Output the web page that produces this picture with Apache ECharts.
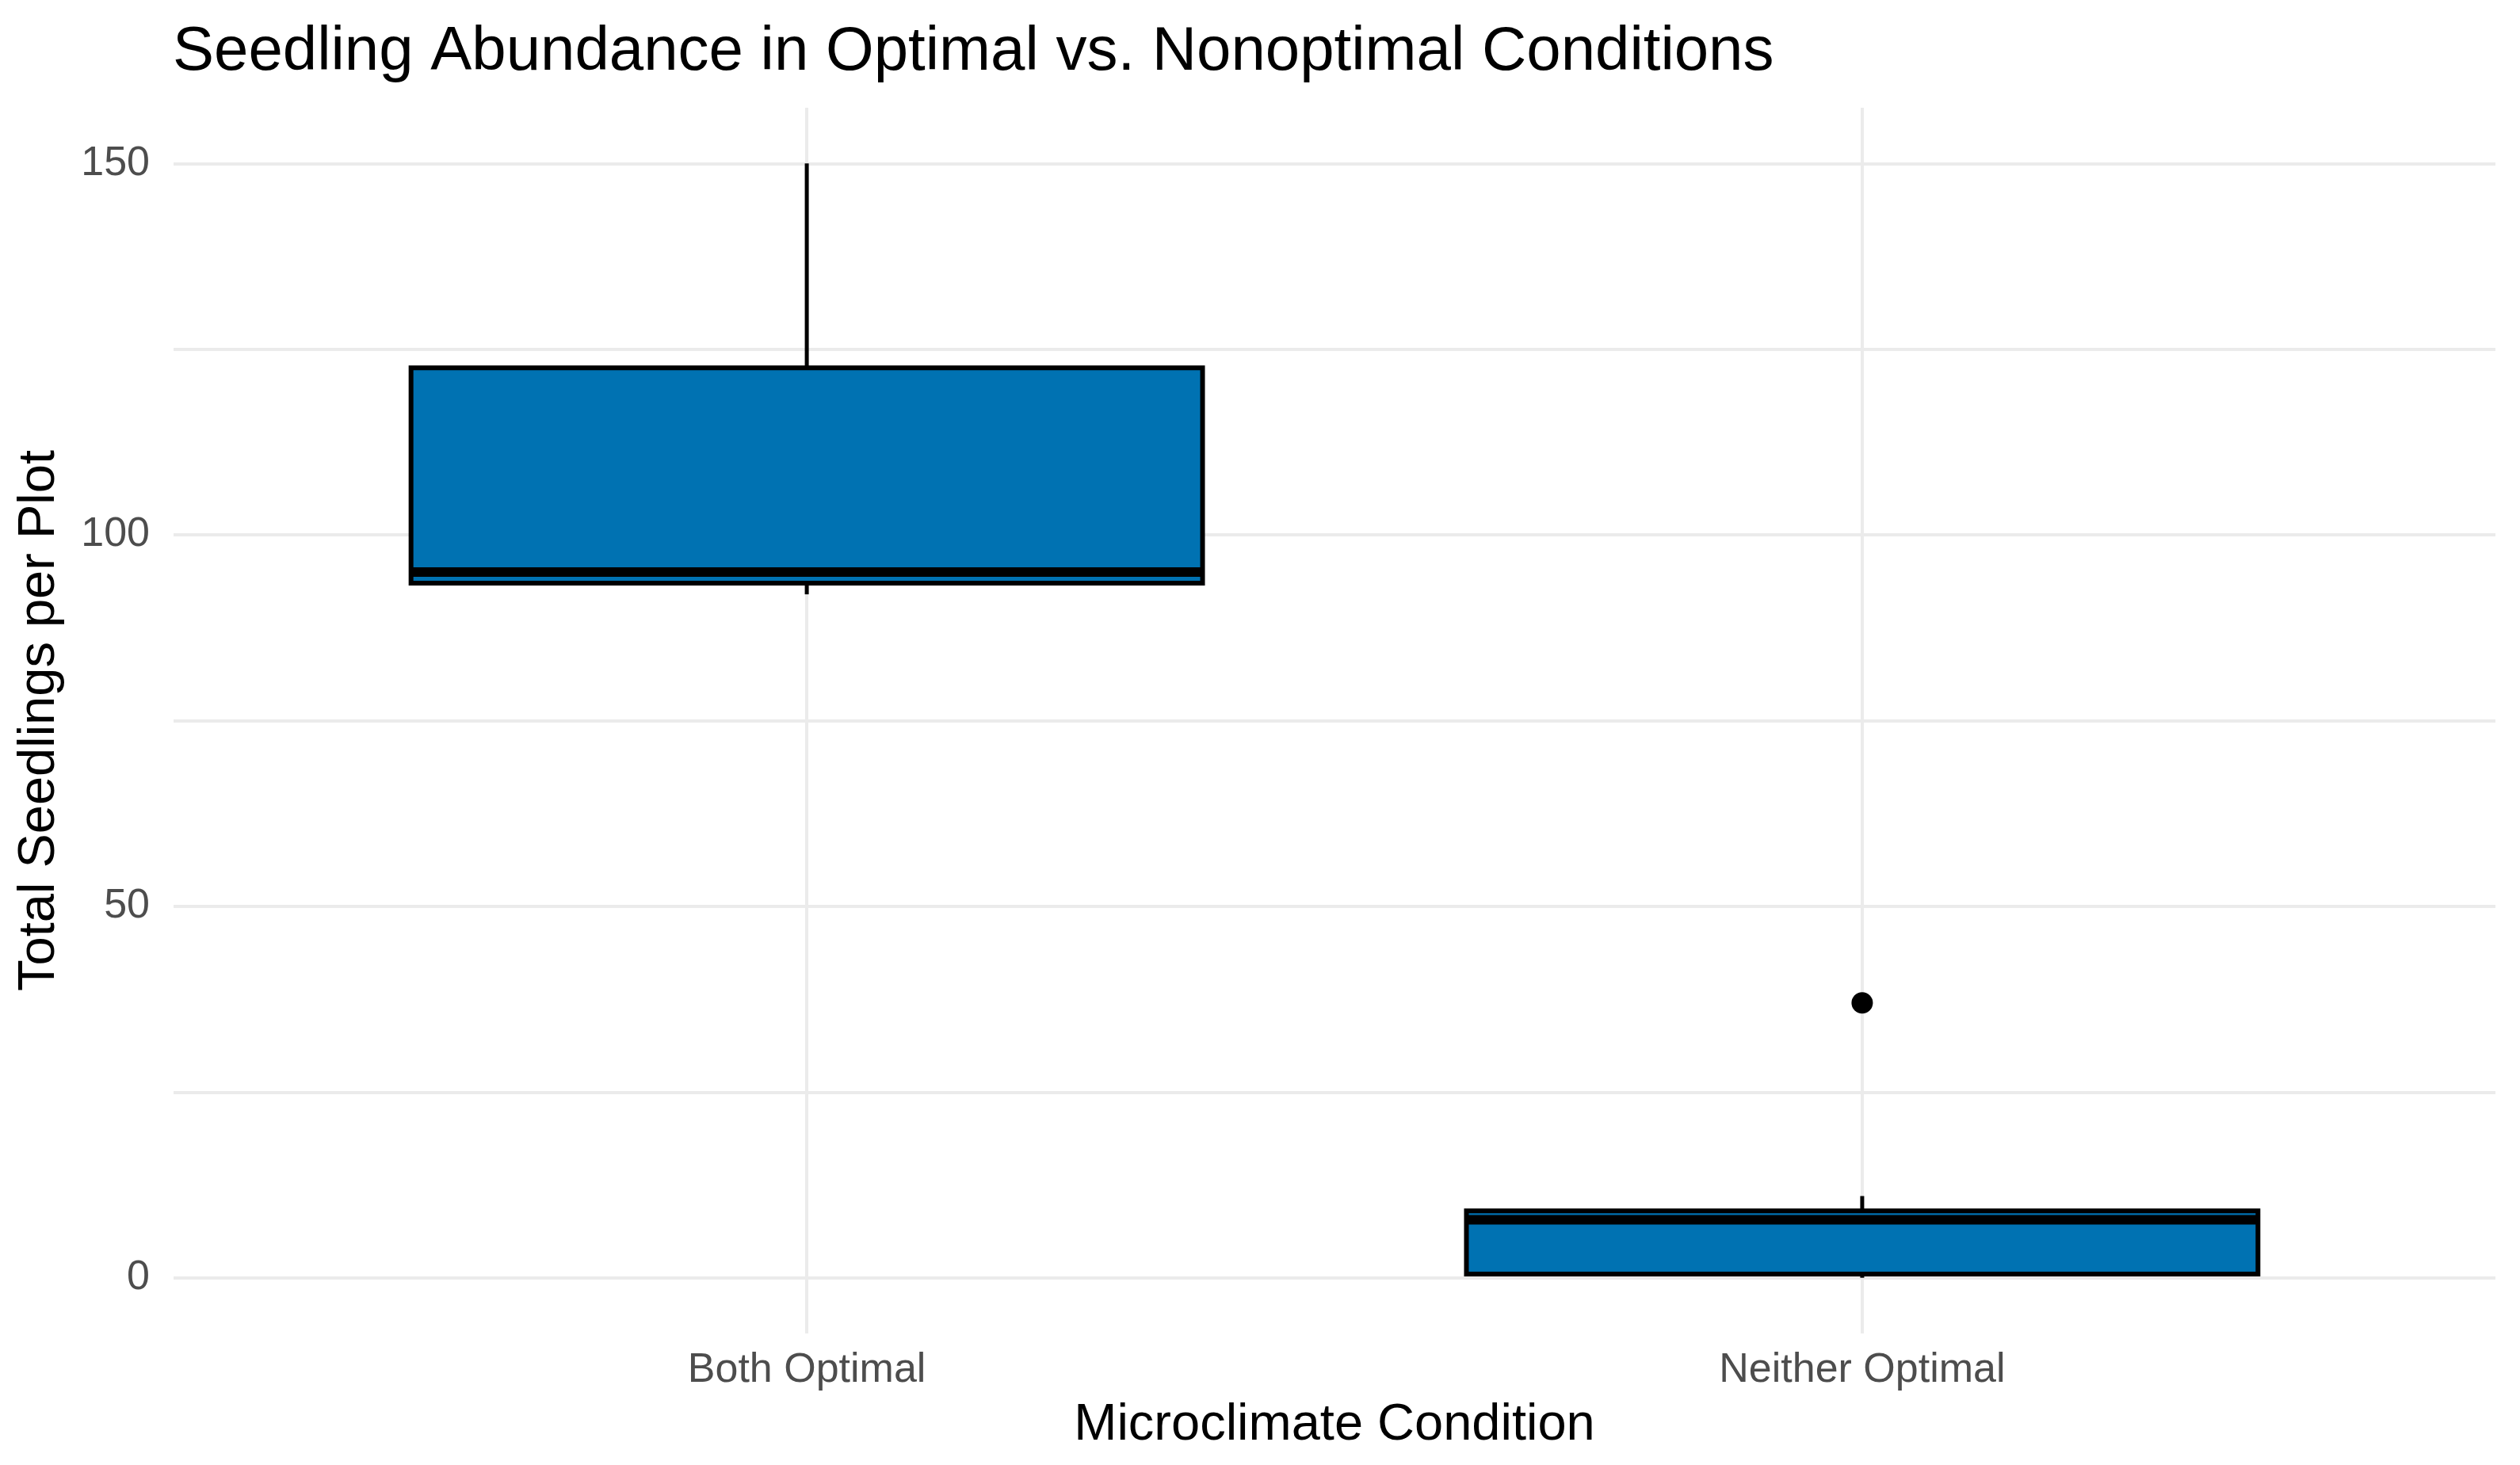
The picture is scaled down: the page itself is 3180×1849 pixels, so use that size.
<!DOCTYPE html>
<html>
<head>
<meta charset="utf-8">
<script src="https://cdn.jsdelivr.net/npm/echarts@6/dist/echarts.min.js"></script>
<style>
html,body{margin:0;padding:0;background:#ffffff;}
#chart{width:3180px;height:1849px;}
</style>
</head>
<body>
<div id="chart"></div>
<script>
// ---- Data ----
const categories = ['Both Optimal', 'Neither Optimal'];
const lowerWhisker = [92, 0];
const q1 = [93.5, 0.5];
const median = [95, 7.8];
const q3 = [122.5, 9];
const upperWhisker = [150, 11];
const outlierCategory = ['Neither Optimal'];
const outlierValue = [37];
const yTickLabels = [0, 50, 100, 150];
const yGridValues = [0, 25, 50, 75, 100, 125, 150];

// ---- Build series data ----
const boxData = categories.map((c, i) => [i + 1, lowerWhisker[i], q1[i], median[i], q3[i], upperWhisker[i]]);
const outlierData = outlierCategory.map((c, i) => [categories.indexOf(c) + 1, outlierValue[i]]);
const catPositions = categories.map((c, i) => i + 1);

const chart = echarts.init(document.getElementById('chart'), null, {renderer: 'canvas'});
const FONT = 'Liberation Sans';

function renderBox(params, api) {
  const x = api.value(0);
  const lo = api.coord([x, api.value(1)]);
  const b1 = api.coord([x, api.value(2)]);
  const md = api.coord([x, api.value(3)]);
  const b3 = api.coord([x, api.value(4)]);
  const hi = api.coord([x, api.value(5)]);
  const halfW = api.size([0.375, 0])[0];
  const cx = lo[0];
  return {
    type: 'group',
    children: [
      {type: 'line', shape: {x1: cx, y1: b3[1], x2: cx, y2: hi[1]}, style: {stroke: '#000', lineWidth: 5}},
      {type: 'line', shape: {x1: cx, y1: b1[1], x2: cx, y2: lo[1]}, style: {stroke: '#000', lineWidth: 5}},
      {type: 'rect', shape: {x: cx - halfW, y: b3[1], width: 2 * halfW, height: b1[1] - b3[1]},
        style: {fill: '#0072B2', stroke: '#000', lineWidth: 6}},
      {type: 'line', shape: {x1: cx - halfW, y1: md[1], x2: cx + halfW, y2: md[1]}, style: {stroke: '#000', lineWidth: 12}}
    ]
  };
}

const option = {
  backgroundColor: '#ffffff',
  animation: false,
  textStyle: {fontFamily: FONT},
  title: {
    text: 'Seedling Abundance in Optimal vs. Nonoptimal Conditions',
    left: 213,
    top: 22,
    textStyle: {fontFamily: FONT, fontSize: 78, fontWeight: 'normal', color: '#000000'}
  },
  grid: {left: 219, right: 31, top: 136, bottom: 166, containLabel: false},
  xAxis: {
    type: 'value',
    min: 0.4,
    max: 2.6,
    name: 'Microclimate Condition',
    nameLocation: 'middle',
    nameGap: 84,
    nameTextStyle: {fontFamily: FONT, fontSize: 65, color: '#000000'},
    axisLine: {show: false},
    axisTick: {show: false, customValues: catPositions},
    axisLabel: {
      customValues: catPositions,
      formatter: v => categories[Math.round(v) - 1] || '',
      fontFamily: FONT, fontSize: 52, color: '#4D4D4D', margin: 21
    },
    splitLine: {show: true, lineStyle: {color: '#EBEBEB', width: 4}}
  },
  yAxis: {
    type: 'value',
    min: -7.5,
    max: 157.5,
    name: 'Total Seedlings per Plot',
    nameLocation: 'middle',
    nameGap: 136,
    nameTextStyle: {fontFamily: FONT, fontSize: 65, color: '#000000'},
    axisLine: {show: false},
    axisTick: {show: false, customValues: yGridValues},
    axisLabel: {
      customValues: yTickLabels,
      fontFamily: FONT, fontSize: 52, color: '#4D4D4D', margin: 30
    },
    splitLine: {show: true, lineStyle: {color: '#EBEBEB', width: 4}}
  },
  series: [
    {
      type: 'custom',
      name: 'box',
      renderItem: renderBox,
      encode: {x: 0, y: [1, 2, 3, 4, 5]},
      data: boxData,
      z: 2
    },
    {
      type: 'scatter',
      name: 'outliers',
      data: outlierData,
      symbol: 'circle',
      symbolSize: 27,
      itemStyle: {color: '#000000', opacity: 1},
      z: 3
    }
  ]
};
chart.setOption(option);
</script>
</body>
</html>
